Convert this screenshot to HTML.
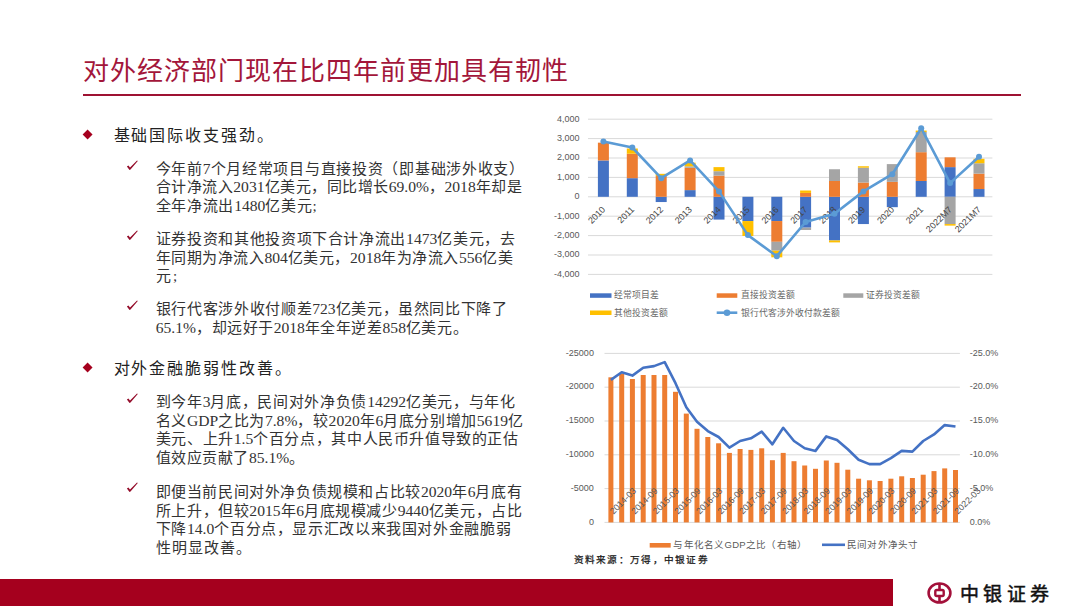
<!DOCTYPE html>
<html lang="zh-CN"><head><meta charset="utf-8">
<style>
html,body{margin:0;padding:0;background:#fff;}
body{width:1080px;height:606px;position:relative;overflow:hidden;font-family:"Liberation Serif",serif;}
.title{position:absolute;left:83px;top:55px;font-family:"Liberation Sans",sans-serif;font-size:26px;letter-spacing:1.02px;line-height:32px;color:#a3163a;white-space:nowrap;}
.rule{position:absolute;left:83px;top:94px;width:938px;height:1.6px;background:#9e1232;}
.dia{position:absolute;width:7.2px;height:7.2px;background:#a5001e;transform:rotate(45deg);}
.h{position:absolute;left:113.5px;font-size:16px;line-height:20px;color:#222;white-space:nowrap;}
.t{position:absolute;font-size:15px;line-height:20px;color:#333;white-space:nowrap;letter-spacing:0.8px;}
.l{letter-spacing:0;font-size:15.6px;}
.ck{position:absolute;}
svg.ch{position:absolute;left:0;top:0;}
.ax{font-family:"Liberation Sans",sans-serif;font-size:9px;fill:#595959;}
.xl{fill:#454545;}
.lg{font-family:"Liberation Sans",sans-serif;font-size:8.8px;fill:#666;}
.lg2{font-family:"Liberation Sans",sans-serif;font-size:9.5px;letter-spacing:0.25px;fill:#595959;}
.src{position:absolute;left:573.5px;top:552.5px;font-size:9.6px;line-height:14px;color:#1a1a1a;letter-spacing:1.3px;white-space:nowrap;-webkit-text-stroke:0.25px #1a1a1a;}
.band{position:absolute;left:0;top:579.4px;width:892.7px;height:27px;background:#a5001e;}
.brand{position:absolute;left:959.5px;top:582px;font-size:19px;line-height:26px;letter-spacing:4.6px;color:#111;white-space:nowrap;-webkit-text-stroke:0.5px #111;}
</style></head><body>
<div class="title">对外经济部门现在比四年前更加具有韧性</div>
<div class="rule"></div>
<div class="dia" style="left:84.2px;top:131.2px"></div>
<div class="h" style="top:125.7px;letter-spacing:1.875px">基础国际收支强劲。</div>
<div class="dia" style="left:84.2px;top:364.4px"></div>
<div class="h" style="top:358.7px;letter-spacing:1.911px">对外金融脆弱性改善。</div>
<svg class="ck" style="left:122px;top:155.0px" width="22" height="20" viewBox="0 0 22 20"><path d="M4.9 11.5 L6.4 10.5 L8.0 12.6 L15.0 5.5 L15.8 6.1 L8.5 14.4 L7.5 14.9 Z" fill="#940c2a"/></svg>
<div class="t" style="left:155.7px;top:158.7px;letter-spacing:0.709px">今年前<span class="l">7</span>个月经常项目与直接投资（即基础涉外收支）</div>
<div class="t" style="left:155.7px;top:177.4px;letter-spacing:0.525px">合计净流入<span class="l">2031</span>亿美元，同比增长<span class="l">69.0%</span>，<span class="l">2018</span>年却是</div>
<div class="t" style="left:155.7px;top:196.1px;letter-spacing:0.700px">全年净流出<span class="l">1480</span>亿美元;</div>
<svg class="ck" style="left:122px;top:225.3px" width="22" height="20" viewBox="0 0 22 20"><path d="M4.9 11.5 L6.4 10.5 L8.0 12.6 L15.0 5.5 L15.8 6.1 L8.5 14.4 L7.5 14.9 Z" fill="#940c2a"/></svg>
<div class="t" style="left:155.7px;top:228.9px;letter-spacing:0.650px">证券投资和其他投资项下合计净流出<span class="l">1473</span>亿美元，去</div>
<div class="t" style="left:155.7px;top:247.6px;letter-spacing:0.541px">年同期为净流入<span class="l">804</span>亿美元，<span class="l">2018</span>年为净流入<span class="l">556</span>亿美</div>
<div class="t" style="left:155.7px;top:266.3px;letter-spacing:2.300px">元;</div>
<svg class="ck" style="left:122px;top:294.6px" width="22" height="20" viewBox="0 0 22 20"><path d="M4.9 11.5 L6.4 10.5 L8.0 12.6 L15.0 5.5 L15.8 6.1 L8.5 14.4 L7.5 14.9 Z" fill="#940c2a"/></svg>
<div class="t" style="left:155.7px;top:299.4px;letter-spacing:0.650px">银行代客涉外收付顺差<span class="l">723</span>亿美元，虽然同比下降了</div>
<div class="t" style="left:155.7px;top:318.1px;letter-spacing:0.538px"><span class="l">65.1%</span>，却远好于<span class="l">2018</span>年全年逆差<span class="l">858</span>亿美元。</div>
<svg class="ck" style="left:122px;top:387.9px" width="22" height="20" viewBox="0 0 22 20"><path d="M4.9 11.5 L6.4 10.5 L8.0 12.6 L15.0 5.5 L15.8 6.1 L8.5 14.4 L7.5 14.9 Z" fill="#940c2a"/></svg>
<div class="t" style="left:155.7px;top:391.9px;letter-spacing:0.663px">到今年<span class="l">3</span>月底，民间对外净负债<span class="l">14292</span>亿美元，与年化</div>
<div class="t" style="left:155.7px;top:410.6px;letter-spacing:0.600px">名义<span class="l">GDP</span>之比为<span class="l">7.8%</span>，较<span class="l">2020</span>年<span class="l">6</span>月底分别增加<span class="l">5619</span>亿</div>
<div class="t" style="left:155.7px;top:429.3px;letter-spacing:0.610px">美元、上升<span class="l">1.5</span>个百分点，其中人民币升值导致的正估</div>
<div class="t" style="left:155.7px;top:448.0px;letter-spacing:0.533px">值效应贡献了<span class="l">85.1%</span>。</div>
<svg class="ck" style="left:122px;top:477.4px" width="22" height="20" viewBox="0 0 22 20"><path d="M4.9 11.5 L6.4 10.5 L8.0 12.6 L15.0 5.5 L15.8 6.1 L8.5 14.4 L7.5 14.9 Z" fill="#940c2a"/></svg>
<div class="t" style="left:155.7px;top:481.9px;letter-spacing:0.600px">即便当前民间对外净负债规模和占比较<span class="l">2020</span>年<span class="l">6</span>月底有</div>
<div class="t" style="left:155.7px;top:500.6px;letter-spacing:0.611px">所上升，但较<span class="l">2015</span>年<span class="l">6</span>月底规模减少<span class="l">9440</span>亿美元，占比</div>
<div class="t" style="left:155.7px;top:519.3px;letter-spacing:0.630px">下降<span class="l">14.0</span>个百分点，显示汇改以来我国对外金融脆弱</div>
<div class="t" style="left:155.7px;top:538.0px;letter-spacing:1.040px">性明显改善。</div>
<svg class="ch" width="1080" height="606" viewBox="0 0 1080 606">
<line x1="588.0" y1="119.2" x2="992.4" y2="119.2" stroke="#d9d9d9" stroke-width="1"/>
<text x="579.5" y="121.5" text-anchor="end" class="ax">4,000</text>
<line x1="588.0" y1="138.6" x2="992.4" y2="138.6" stroke="#d9d9d9" stroke-width="1"/>
<text x="579.5" y="140.9" text-anchor="end" class="ax">3,000</text>
<line x1="588.0" y1="158.0" x2="992.4" y2="158.0" stroke="#d9d9d9" stroke-width="1"/>
<text x="579.5" y="160.3" text-anchor="end" class="ax">2,000</text>
<line x1="588.0" y1="177.4" x2="992.4" y2="177.4" stroke="#d9d9d9" stroke-width="1"/>
<text x="579.5" y="179.7" text-anchor="end" class="ax">1,000</text>
<line x1="588.0" y1="196.8" x2="992.4" y2="196.8" stroke="#d9d9d9" stroke-width="1"/>
<text x="579.5" y="199.1" text-anchor="end" class="ax">0</text>
<line x1="588.0" y1="216.2" x2="992.4" y2="216.2" stroke="#d9d9d9" stroke-width="1"/>
<text x="579.5" y="218.5" text-anchor="end" class="ax">-1,000</text>
<line x1="588.0" y1="235.6" x2="992.4" y2="235.6" stroke="#d9d9d9" stroke-width="1"/>
<text x="579.5" y="237.9" text-anchor="end" class="ax">-2,000</text>
<line x1="588.0" y1="255.0" x2="992.4" y2="255.0" stroke="#d9d9d9" stroke-width="1"/>
<text x="579.5" y="257.3" text-anchor="end" class="ax">-3,000</text>
<line x1="588.0" y1="274.4" x2="992.4" y2="274.4" stroke="#d9d9d9" stroke-width="1"/>
<text x="579.5" y="276.7" text-anchor="end" class="ax">-4,000</text>
<rect x="597.9" y="160.43" width="11" height="36.37" fill="#4472c4"/>
<rect x="597.9" y="142.67" width="11" height="17.75" fill="#ed7d31"/>
<rect x="626.8" y="178.18" width="11" height="18.62" fill="#4472c4"/>
<rect x="626.8" y="153.73" width="11" height="24.44" fill="#ed7d31"/>
<rect x="626.8" y="148.49" width="11" height="5.24" fill="#ffc000"/>
<rect x="655.7" y="196.80" width="11" height="5.24" fill="#4472c4"/>
<rect x="655.7" y="176.04" width="11" height="20.76" fill="#ed7d31"/>
<rect x="655.7" y="173.81" width="11" height="2.23" fill="#ffc000"/>
<rect x="684.6" y="190.11" width="11" height="6.69" fill="#4472c4"/>
<rect x="684.6" y="167.80" width="11" height="22.31" fill="#ed7d31"/>
<rect x="684.6" y="166.34" width="11" height="1.45" fill="#a5a5a5"/>
<rect x="684.6" y="162.66" width="11" height="3.69" fill="#ffc000"/>
<rect x="713.5" y="196.80" width="11" height="22.79" fill="#4472c4"/>
<rect x="713.5" y="175.65" width="11" height="21.15" fill="#ed7d31"/>
<rect x="713.5" y="171.19" width="11" height="4.46" fill="#a5a5a5"/>
<rect x="713.5" y="167.12" width="11" height="4.07" fill="#ffc000"/>
<rect x="742.4" y="196.80" width="11" height="24.25" fill="#4472c4"/>
<rect x="742.4" y="221.05" width="11" height="14.94" fill="#ffc000"/>
<rect x="771.3" y="196.80" width="11" height="24.25" fill="#4472c4"/>
<rect x="771.3" y="221.05" width="11" height="20.76" fill="#ed7d31"/>
<rect x="771.3" y="241.81" width="11" height="8.92" fill="#a5a5a5"/>
<rect x="771.3" y="250.73" width="11" height="6.60" fill="#ffc000"/>
<rect x="800.1" y="196.80" width="11" height="30.85" fill="#4472c4"/>
<rect x="800.1" y="192.92" width="11" height="3.88" fill="#ed7d31"/>
<rect x="800.1" y="227.65" width="11" height="2.33" fill="#a5a5a5"/>
<rect x="800.1" y="190.50" width="11" height="2.42" fill="#ffc000"/>
<rect x="829.0" y="196.80" width="11" height="43.65" fill="#4472c4"/>
<rect x="829.0" y="180.99" width="11" height="15.81" fill="#ed7d31"/>
<rect x="829.0" y="169.25" width="11" height="11.74" fill="#a5a5a5"/>
<rect x="829.0" y="240.45" width="11" height="1.94" fill="#ffc000"/>
<rect x="857.9" y="196.80" width="11" height="27.26" fill="#4472c4"/>
<rect x="857.9" y="182.54" width="11" height="14.26" fill="#ed7d31"/>
<rect x="857.9" y="167.70" width="11" height="14.84" fill="#a5a5a5"/>
<rect x="857.9" y="166.25" width="11" height="1.45" fill="#ffc000"/>
<rect x="886.8" y="196.80" width="11" height="10.38" fill="#4472c4"/>
<rect x="886.8" y="181.86" width="11" height="14.94" fill="#ed7d31"/>
<rect x="886.8" y="164.11" width="11" height="17.75" fill="#a5a5a5"/>
<rect x="915.7" y="180.99" width="11" height="15.81" fill="#4472c4"/>
<rect x="915.7" y="152.18" width="11" height="28.81" fill="#ed7d31"/>
<rect x="915.7" y="132.00" width="11" height="20.18" fill="#a5a5a5"/>
<rect x="915.7" y="130.55" width="11" height="1.45" fill="#ffc000"/>
<rect x="944.6" y="167.12" width="11" height="29.68" fill="#4472c4"/>
<rect x="944.6" y="157.32" width="11" height="9.80" fill="#ed7d31"/>
<rect x="944.6" y="196.80" width="11" height="27.26" fill="#a5a5a5"/>
<rect x="944.6" y="224.06" width="11" height="1.55" fill="#ffc000"/>
<rect x="973.5" y="189.04" width="11" height="7.76" fill="#4472c4"/>
<rect x="973.5" y="173.62" width="11" height="15.42" fill="#ed7d31"/>
<rect x="973.5" y="163.24" width="11" height="10.38" fill="#a5a5a5"/>
<rect x="973.5" y="158.78" width="11" height="4.46" fill="#ffc000"/>
<text x="605.9" y="210.1" text-anchor="end" class="ax xl" transform="rotate(-45 605.9 210.1)">2010</text>
<text x="634.8" y="210.1" text-anchor="end" class="ax xl" transform="rotate(-45 634.8 210.1)">2011</text>
<text x="663.7" y="210.1" text-anchor="end" class="ax xl" transform="rotate(-45 663.7 210.1)">2012</text>
<text x="692.6" y="210.1" text-anchor="end" class="ax xl" transform="rotate(-45 692.6 210.1)">2013</text>
<text x="721.5" y="210.1" text-anchor="end" class="ax xl" transform="rotate(-45 721.5 210.1)">2014</text>
<text x="750.4" y="210.1" text-anchor="end" class="ax xl" transform="rotate(-45 750.4 210.1)">2015</text>
<text x="779.3" y="210.1" text-anchor="end" class="ax xl" transform="rotate(-45 779.3 210.1)">2016</text>
<text x="808.1" y="210.1" text-anchor="end" class="ax xl" transform="rotate(-45 808.1 210.1)">2017</text>
<text x="837.0" y="210.1" text-anchor="end" class="ax xl" transform="rotate(-45 837.0 210.1)">2018</text>
<text x="865.9" y="210.1" text-anchor="end" class="ax xl" transform="rotate(-45 865.9 210.1)">2019</text>
<text x="894.8" y="210.1" text-anchor="end" class="ax xl" transform="rotate(-45 894.8 210.1)">2020</text>
<text x="923.7" y="210.1" text-anchor="end" class="ax xl" transform="rotate(-45 923.7 210.1)">2021</text>
<text x="952.6" y="210.1" text-anchor="end" class="ax xl" transform="rotate(-45 952.6 210.1)">2022M7</text>
<text x="981.5" y="210.1" text-anchor="end" class="ax xl" transform="rotate(-45 981.5 210.1)">2021M7</text>
<polyline points="603.4,141.4 632.3,147.5 661.2,178.2 690.1,160.4 719.0,191.4 747.9,235.1 776.8,256.2 805.6,222.0 834.5,213.7 863.4,191.4 892.3,174.2 921.2,128.2 950.1,183.1 979.0,156.7" fill="none" stroke="#5b9bd5" stroke-width="2.6" stroke-linejoin="round"/>
<circle cx="603.4" cy="141.4" r="3.0" fill="#5b9bd5"/>
<circle cx="632.3" cy="147.5" r="3.0" fill="#5b9bd5"/>
<circle cx="661.2" cy="178.2" r="3.0" fill="#5b9bd5"/>
<circle cx="690.1" cy="160.4" r="3.0" fill="#5b9bd5"/>
<circle cx="719.0" cy="191.4" r="3.0" fill="#5b9bd5"/>
<circle cx="747.9" cy="235.1" r="3.0" fill="#5b9bd5"/>
<circle cx="776.8" cy="256.2" r="3.0" fill="#5b9bd5"/>
<circle cx="805.6" cy="222.0" r="3.0" fill="#5b9bd5"/>
<circle cx="834.5" cy="213.7" r="3.0" fill="#5b9bd5"/>
<circle cx="863.4" cy="191.4" r="3.0" fill="#5b9bd5"/>
<circle cx="892.3" cy="174.2" r="3.0" fill="#5b9bd5"/>
<circle cx="921.2" cy="128.2" r="3.0" fill="#5b9bd5"/>
<circle cx="950.1" cy="183.1" r="3.0" fill="#5b9bd5"/>
<circle cx="979.0" cy="156.7" r="3.0" fill="#5b9bd5"/>
<rect x="590" y="293.3" width="21.5" height="4.5" fill="#4472c4"/>
<text x="614.3" y="298.2" class="lg">经常项目差</text>
<rect x="716.7" y="293.3" width="20.6" height="4.5" fill="#ed7d31"/>
<text x="740.7" y="298.2" class="lg">直接投资差额</text>
<rect x="843.3" y="293.3" width="20" height="4.5" fill="#a5a5a5"/>
<text x="866" y="298.2" class="lg">证券投资差额</text>
<rect x="590" y="310.5" width="21.5" height="4.5" fill="#ffc000"/>
<text x="614.3" y="315.5" class="lg">其他投资差额</text>
<line x1="716.7" y1="312.7" x2="737.3" y2="312.7" stroke="#5b9bd5" stroke-width="2.6"/>
<circle cx="727" cy="312.7" r="3.3" fill="#5b9bd5"/>
<text x="740.7" y="315.5" class="lg">银行代客涉外收付款差额</text>
<line x1="604.5" y1="353.4" x2="959.9" y2="353.4" stroke="#d9d9d9" stroke-width="1"/>
<text x="593.9" y="355.5" text-anchor="end" class="ax">-25000</text>
<text x="969.8" y="355.5" class="ax">-25.0%</text>
<line x1="604.5" y1="387.2" x2="959.9" y2="387.2" stroke="#d9d9d9" stroke-width="1"/>
<text x="593.9" y="389.3" text-anchor="end" class="ax">-20000</text>
<text x="969.8" y="389.3" class="ax">-20.0%</text>
<line x1="604.5" y1="421.0" x2="959.9" y2="421.0" stroke="#d9d9d9" stroke-width="1"/>
<text x="593.9" y="423.1" text-anchor="end" class="ax">-15000</text>
<text x="969.8" y="423.1" class="ax">-15.0%</text>
<line x1="604.5" y1="454.8" x2="959.9" y2="454.8" stroke="#d9d9d9" stroke-width="1"/>
<text x="593.9" y="456.9" text-anchor="end" class="ax">-10000</text>
<text x="969.8" y="456.9" class="ax">-10.0%</text>
<line x1="604.5" y1="488.6" x2="959.9" y2="488.6" stroke="#d9d9d9" stroke-width="1"/>
<text x="593.9" y="490.7" text-anchor="end" class="ax">-5000</text>
<text x="969.8" y="490.7" class="ax">-5.0%</text>
<line x1="604.5" y1="522.4" x2="959.9" y2="522.4" stroke="#d9d9d9" stroke-width="1"/>
<text x="593.9" y="524.5" text-anchor="end" class="ax">0</text>
<text x="969.8" y="524.5" class="ax">0.0%</text>
<rect x="608.4" y="377.3" width="5" height="145.1" fill="#ed7d31"/>
<rect x="619.2" y="373.7" width="5" height="148.7" fill="#ed7d31"/>
<rect x="629.9" y="379.0" width="5" height="143.4" fill="#ed7d31"/>
<rect x="640.7" y="375.0" width="5" height="147.4" fill="#ed7d31"/>
<rect x="651.5" y="375.0" width="5" height="147.4" fill="#ed7d31"/>
<rect x="662.2" y="375.0" width="5" height="147.4" fill="#ed7d31"/>
<rect x="673.0" y="391.8" width="5" height="130.6" fill="#ed7d31"/>
<rect x="683.8" y="413.6" width="5" height="108.8" fill="#ed7d31"/>
<rect x="694.5" y="428.8" width="5" height="93.6" fill="#ed7d31"/>
<rect x="705.3" y="437.0" width="5" height="85.4" fill="#ed7d31"/>
<rect x="716.1" y="443.3" width="5" height="79.1" fill="#ed7d31"/>
<rect x="726.9" y="452.9" width="5" height="69.5" fill="#ed7d31"/>
<rect x="737.6" y="449.0" width="5" height="73.4" fill="#ed7d31"/>
<rect x="748.4" y="449.9" width="5" height="72.5" fill="#ed7d31"/>
<rect x="759.2" y="448.3" width="5" height="74.1" fill="#ed7d31"/>
<rect x="769.9" y="460.2" width="5" height="62.2" fill="#ed7d31"/>
<rect x="780.7" y="452.9" width="5" height="69.5" fill="#ed7d31"/>
<rect x="791.5" y="461.2" width="5" height="61.2" fill="#ed7d31"/>
<rect x="802.2" y="465.5" width="5" height="56.9" fill="#ed7d31"/>
<rect x="813.0" y="468.8" width="5" height="53.6" fill="#ed7d31"/>
<rect x="823.8" y="460.5" width="5" height="61.9" fill="#ed7d31"/>
<rect x="834.5" y="462.8" width="5" height="59.6" fill="#ed7d31"/>
<rect x="845.3" y="469.7" width="5" height="52.7" fill="#ed7d31"/>
<rect x="856.1" y="478.7" width="5" height="43.7" fill="#ed7d31"/>
<rect x="866.9" y="480.3" width="5" height="42.1" fill="#ed7d31"/>
<rect x="877.6" y="481.0" width="5" height="41.4" fill="#ed7d31"/>
<rect x="888.4" y="478.7" width="5" height="43.7" fill="#ed7d31"/>
<rect x="899.2" y="476.3" width="5" height="46.1" fill="#ed7d31"/>
<rect x="909.9" y="478.0" width="5" height="44.4" fill="#ed7d31"/>
<rect x="920.7" y="474.7" width="5" height="47.7" fill="#ed7d31"/>
<rect x="931.5" y="471.1" width="5" height="51.3" fill="#ed7d31"/>
<rect x="942.2" y="468.4" width="5" height="54.0" fill="#ed7d31"/>
<rect x="953.0" y="470.0" width="5" height="52.4" fill="#ed7d31"/>
<polyline points="610.9,379.9 621.7,372.3 632.4,375.6 643.2,367.7 654.0,366.1 664.7,362.1 675.5,383.2 686.3,407.3 697.0,421.8 707.8,431.1 718.6,437.0 729.4,447.6 740.1,441.0 750.9,438.3 761.7,431.7 772.4,444.3 783.2,427.8 794.0,441.0 804.7,448.3 815.5,450.9 826.3,436.4 837.0,440.0 847.8,449.3 858.6,459.8 869.4,464.1 880.1,464.1 890.9,458.2 901.7,450.9 912.4,451.6 923.2,441.0 934.0,434.4 944.7,425.1 955.5,426.5" fill="none" stroke="#4472c4" stroke-width="2.6" stroke-linejoin="round"/>
<text x="623.0" y="501.0" text-anchor="middle" class="ax" transform="rotate(-45 623.0 501.0)" dy="3">2014-03</text>
<text x="644.5" y="501.0" text-anchor="middle" class="ax" transform="rotate(-45 644.5 501.0)" dy="3">2014-09</text>
<text x="666.1" y="501.0" text-anchor="middle" class="ax" transform="rotate(-45 666.1 501.0)" dy="3">2015-03</text>
<text x="687.6" y="501.0" text-anchor="middle" class="ax" transform="rotate(-45 687.6 501.0)" dy="3">2015-09</text>
<text x="709.2" y="501.0" text-anchor="middle" class="ax" transform="rotate(-45 709.2 501.0)" dy="3">2016-03</text>
<text x="730.7" y="501.0" text-anchor="middle" class="ax" transform="rotate(-45 730.7 501.0)" dy="3">2016-09</text>
<text x="752.2" y="501.0" text-anchor="middle" class="ax" transform="rotate(-45 752.2 501.0)" dy="3">2017-03</text>
<text x="773.8" y="501.0" text-anchor="middle" class="ax" transform="rotate(-45 773.8 501.0)" dy="3">2017-09</text>
<text x="795.3" y="501.0" text-anchor="middle" class="ax" transform="rotate(-45 795.3 501.0)" dy="3">2018-03</text>
<text x="816.9" y="501.0" text-anchor="middle" class="ax" transform="rotate(-45 816.9 501.0)" dy="3">2018-09</text>
<text x="838.4" y="501.0" text-anchor="middle" class="ax" transform="rotate(-45 838.4 501.0)" dy="3">2019-03</text>
<text x="859.9" y="501.0" text-anchor="middle" class="ax" transform="rotate(-45 859.9 501.0)" dy="3">2019-09</text>
<text x="881.5" y="501.0" text-anchor="middle" class="ax" transform="rotate(-45 881.5 501.0)" dy="3">2020-03</text>
<text x="903.0" y="501.0" text-anchor="middle" class="ax" transform="rotate(-45 903.0 501.0)" dy="3">2020-09</text>
<text x="924.6" y="501.0" text-anchor="middle" class="ax" transform="rotate(-45 924.6 501.0)" dy="3">2021-03</text>
<text x="946.1" y="501.0" text-anchor="middle" class="ax" transform="rotate(-45 946.1 501.0)" dy="3">2021-09</text>
<text x="967.6" y="501.0" text-anchor="middle" class="ax" transform="rotate(-45 967.6 501.0)" dy="3">2022-03</text>
<rect x="649.7" y="543" width="21" height="4.6" fill="#ed7d31"/>
<text x="673.3" y="548.2" class="lg2">与年化名义GDP之比（右轴）</text>
<line x1="822" y1="544.8" x2="845" y2="544.8" stroke="#4472c4" stroke-width="2.6"/>
<text x="846.8" y="548.2" class="lg2">民间对外净头寸</text>
<g transform="translate(939.5 593)">
<ellipse cx="0" cy="0" rx="10.9" ry="9.5" fill="none" stroke="#a3103a" stroke-width="2.6"/>
<rect x="-4.2" y="-3" width="8.4" height="6" rx="1.5" fill="none" stroke="#a3103a" stroke-width="2.4"/>
<line x1="0" y1="-10" x2="0" y2="-3" stroke="#a3103a" stroke-width="2.6"/>
<line x1="0" y1="3" x2="0" y2="10" stroke="#a3103a" stroke-width="2.6"/>
</g>
</svg>
<div class="src">资料来源：万得，中银证券</div>
<div class="band"></div>
<div class="brand">中银证券</div>
</body></html>
